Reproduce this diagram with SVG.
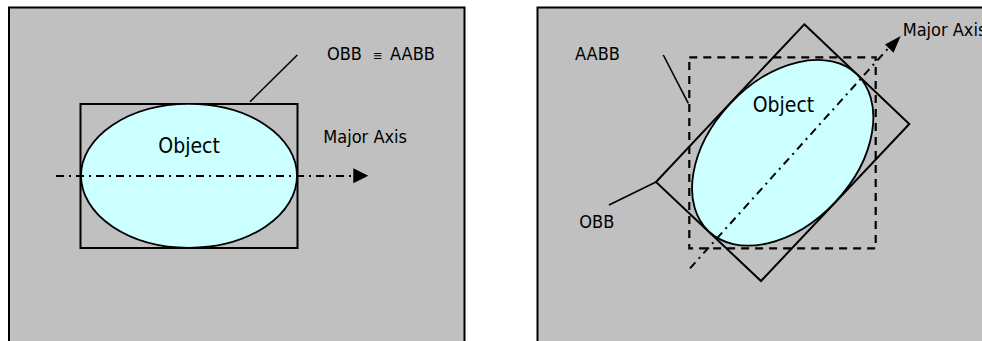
<svg xmlns="http://www.w3.org/2000/svg" width="982" height="341" viewBox="0 0 982 341">
  <defs>
    <style>
      .panel { fill: #C0C0C0; stroke: #000; stroke-width: 2; }
      .obj { fill: #CCFFFF; stroke: #000; stroke-width: 1.8; }
      .box { fill: none; stroke: #000; stroke-width: 2; }
      .aabb { fill: none; stroke: #000; stroke-width: 2.2; stroke-dasharray: 8 6; }
      .axis { fill: none; stroke: #000; stroke-width: 2; stroke-dasharray: 8 5 2 5; }
      .leader { fill: none; stroke: #000; stroke-width: 1.6; }
      .head { fill: #000; stroke: none; }
      text { font-family: "DejaVu Sans Condensed", "DejaVu Sans", sans-serif; font-stretch: condensed; fill: #000; }
      .lbl { font-size: 18px; }
      .big { font-size: 21px; }
    </style>
  </defs>

  <rect x="0" y="0" width="982" height="341" fill="#FFFFFF"/>

  <!-- left panel: axis-aligned object -->
  <g id="panel-left">
    <rect class="panel" x="9" y="7.5" width="455.5" height="400"/>
  </g>
  <g id="left-obb">
    <rect class="box" x="80.5" y="104" width="217" height="144"/>
  </g>
  <g id="left-object">
    <ellipse class="obj" cx="189" cy="175.8" rx="108" ry="72"/>
    <text class="big" x="158.3" y="153.3">Object</text>
  </g>
  <g id="left-labels">
    <text class="lbl" x="327" y="60">OBB</text>
    <text x="373" y="60" font-size="13px">≡</text>
    <text class="lbl" x="390" y="60">AABB</text>
    <text class="lbl" x="323.3" y="142.7">Major Axis</text>
  </g>

  <!-- right panel: rotated object -->
  <g id="panel-right">
    <rect class="panel" x="537.5" y="7.5" width="500" height="400"/>
  </g>
  <g id="right-obb">
    <polygon class="box" points="804.3,24.3 909.3,124 761,281 656,182"/>
  </g>
  <g id="right-aabb">
    <rect class="aabb" x="689.3" y="57.3" width="186.4" height="191"/>
  </g>
  <g id="right-object">
    <ellipse class="obj" cx="782.7" cy="152.8" rx="108" ry="72" transform="rotate(-46.8 782.7 152.8)"/>
    <text class="big" x="752.7" y="111.7">Object</text>
  </g>
  <g id="right-labels">
    <text class="lbl" x="575" y="59.5">AABB</text>
    <text class="lbl" x="579.3" y="227.7">OBB</text>
    <text class="lbl" x="902.7" y="36">Major Axis</text>
  </g>

  <!-- connectors: axes and leader lines -->
  <g id="connectors">
    <line class="axis" x1="56" y1="176" x2="354" y2="176"/>
    <polygon class="head" points="368.3,175.8 353.3,168.3 353.3,183.3"/>
    <line class="leader" x1="250" y1="101.7" x2="297.3" y2="55"/>

    <line class="axis" x1="690" y1="268.3" x2="888" y2="48.5" stroke-width="1.7"/>
    <polygon class="head" points="900.7,36 885,44.5 893.5,52.7"/>
    <line class="leader" x1="663.3" y1="55" x2="688.3" y2="103.3"/>
    <line class="leader" x1="609" y1="205" x2="656" y2="182"/>
  </g>
</svg>
